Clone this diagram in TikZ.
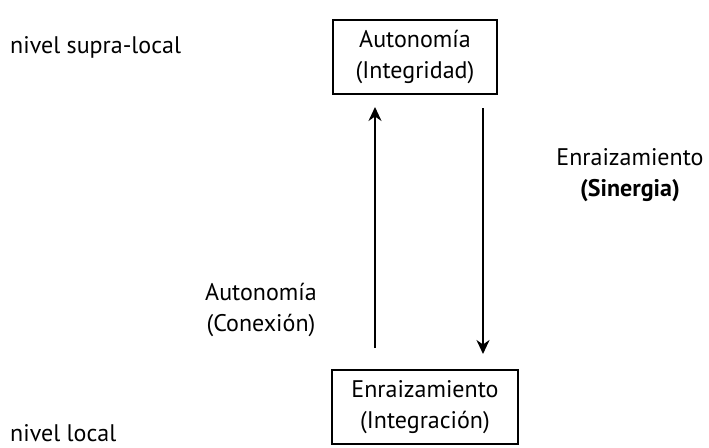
\documentclass[tikz,border=0pt]{standalone}
\usepackage{fontspec}
\setmainfont{PT Sans}
\usetikzlibrary{arrows.meta}
\tikzset{caja/.style={draw,line width=2.8pt,minimum width=#1,minimum height=74pt,align=center,inner sep=0pt},
         rotulo/.style={align=center,inner sep=0pt},
         flecha/.style={line width=2.8pt,-{Stealth[length=14pt,width=13pt]}}}

\begin{document}
\begin{tikzpicture}[x=1pt,y=-1pt,font=\fontsize{24}{31}\selectfont]
            \useasboundingbox (0,0) rectangle (709,447);
            \node[caja=164pt] (sup) at (415,57) {Autonom\'ia\\(Integridad)};
            \node[caja=186pt] (inf) at (425,407) {Enraizamiento\\(Integraci\'on)};
            \node[rotulo,anchor=west] (nsup) at (10,47) {nivel supra-local};
            \node[rotulo,anchor=west] (ninf) at (10,433) {nivel local};
            \node[rotulo] (sin) at (630,175) {Enraizamiento\\\textbf{(Sinergia)}};
            \node[rotulo] (con) at (261,310) {Autonom\'ia\\(Conexi\'on)};
            \coordinate (a1) at (375,348);
            \coordinate (a2) at (375,107);
            \coordinate (b1) at (483,108);
            \coordinate (b2) at (483,354);
            \draw[flecha] (a1) -- (a2);
            \draw[flecha] (b1) -- (b2);
        \end{tikzpicture}
\end{document}
